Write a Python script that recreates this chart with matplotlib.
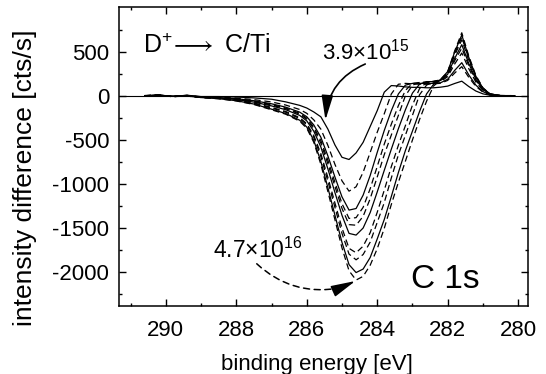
import matplotlib
matplotlib.use('Agg')
import matplotlib.pyplot as plt
from matplotlib.patches import FancyArrowPatch

plt.rcParams['font.family'] = ['Liberation Sans', 'DejaVu Sans']
plt.rcParams['mathtext.fontset'] = 'custom'
plt.rcParams['mathtext.rm'] = 'Liberation Sans'
plt.rcParams['mathtext.default'] = 'regular'
plt.rcParams['axes.unicode_minus'] = False

# binding energy grid [eV]
energy = [290.6, 290.2, 289.8, 289.4, 289.0, 288.5, 288.0, 287.5, 287.0, 286.6,
          286.2, 286.0, 285.8, 285.6, 285.4, 285.2, 285.0, 284.8, 284.6, 284.4,
          284.2, 284.0, 283.8, 283.6, 283.4, 283.2, 283.0, 282.8, 282.6, 282.4,
          282.2, 282.0, 281.8, 281.6, 281.4, 281.2, 281.0, 280.8, 280.5, 280.1]

# difference spectra, lowest fluence (3.9e15) first, highest (4.7e16) last
spec_1 = [0, 8, -8, 5, -10, -10, -15, -25, -40, -70,
          -110, -140, -185, -240, -380, -560, -700, -725, -650, -530,
          -350, -170, 40, 115, 110, 100, 95, 95, 90, 90,
          97, 109, 139, 165, 104, 53, 21, 5, 0, 0]
spec_2 = [0, 6, -10, 3, -12, -16, -27, -45, -71, -106,
          -157, -200, -275, -380, -565, -781, -968, -1085, -1035, -870,
          -645, -415, -205, 20, 130, 140, 135, 130, 130, 135,
          141, 174, 258, 330, 208, 106, 41, 10, 0, -3]
spec_3 = [-3, 5, -6, 0, -14, -21, -34, -57, -92, -130,
          -187, -239, -333, -472, -685, -925, -1150, -1300, -1282, -1130,
          -907, -644, -395, -171, 20, 120, 140, 140, 140, 140,
          147, 187, 288, 375, 236, 120, 47, 11, 2, 0]
spec_4 = [2, 4, -9, -2, -15, -22, -37, -62, -100, -140,
          -200, -255, -357, -510, -735, -985, -1227, -1395, -1386, -1269,
          -1057, -804, -550, -324, -113, 60, 140, 150, 150, 150,
          160, 217, 361, 485, 306, 155, 61, 15, 0, 2]
spec_5 = [0, 7, -12, 2, -16, -24, -40, -67, -107, -148,
          -210, -268, -376, -540, -774, -1032, -1281, -1465, -1472, -1371,
          -1170, -924, -670, -447, -224, 0, 120, 150, 155, 155,
          167, 232, 398, 540, 340, 173, 68, 16, 0, 0]
spec_6 = [-2, 6, -8, 4, -18, -26, -44, -73, -116, -159,
          -224, -286, -404, -583, -832, -1101, -1360, -1565, -1584, -1504,
          -1328, -1094, -848, -608, -376, -160, 30, 130, 160, 160,
          173, 244, 424, 580, 365, 186, 73, 17, 0, -2]
spec_7 = [1, 3, -11, 1, -19, -29, -50, -83, -133, -179,
          -250, -318, -453, -659, -931, -1220, -1504, -1735, -1785, -1710,
          -1557, -1325, -1074, -806, -564, -340, -107, 80, 150, 165,
          179, 259, 461, 635, 400, 203, 79, 19, 0, 0]
spec_8 = [0, 5, -9, -3, -20, -31, -53, -88, -140, -187,
          -260, -332, -473, -691, -973, -1270, -1565, -1800, -1865, -1805,
          -1664, -1440, -1215, -935, -673, -449, -224, 10, 120, 160,
          180, 265, 480, 665, 419, 213, 83, 20, 2, 0]
spec_9 = [-1, 6, -7, -4, -21, -34, -57, -95, -153, -202,
          -279, -356, -509, -748, -1047, -1359, -1668, -1920, -2010, -1970,
          -1839, -1628, -1407, -1146, -874, -623, -402, -181, 20, 130,
          186, 274, 497, 690, 435, 221, 86, 21, 0, 0]
spec_10 = [0, 5, -10, -5, -20, -35, -60, -100, -160, -210,
           -290, -370, -530, -780, -1090, -1410, -1730, -1990, -2095, -2053,
           -1927, -1739, -1508, -1236, -985, -744, -503, -272, -63, 110,
           180, 270, 510, 715, 450, 230, 90, 20, 0, 0]

spectra = [spec_1, spec_2, spec_3, spec_4, spec_5,
           spec_6, spec_7, spec_8, spec_9, spec_10]
styles = ['-', '--', '-', '--', '--', '-', '--', '--', '-', '--']

fig = plt.figure(figsize=(5.46, 3.74), dpi=100)
ax = fig.add_axes([119/546, 1 - 306/374, (528 - 119)/546, (306 - 7)/374])

ax.axhline(0, color='black', lw=0.8, zorder=1)
for s, ls in zip(spectra, styles):
    if ls == '-':
        ax.plot(energy, s, color='black', lw=0.9)
    else:
        ax.plot(energy, s, color='black', lw=0.9, linestyle=(0, (5, 3)))

ax.set_xlim(291.33, 279.72)
ax.set_ylim(-2390, 1008)
ax.set_xticks([290, 288, 286, 284, 282, 280])
ax.set_xticks(range(281, 292, 2), minor=True)
ax.set_yticks([-2000, -1500, -1000, -500, 0, 500])
ax.set_yticks(range(-2250, 1000, 500), minor=True)
ax.tick_params(which='both', direction='in', top=True, right=True, width=1)
ax.tick_params(which='major', length=5, labelsize=16)
ax.tick_params(axis='x', which='major', pad=10)
ax.tick_params(axis='y', which='major', pad=7)
ax.tick_params(which='minor', length=2.5)
for sp in ax.spines.values():
    sp.set_linewidth(1.1)

ax.set_xlabel('binding energy [eV]', fontsize=16)
ax.xaxis.set_label_coords(0.483, -0.162)
ax.set_ylabel('intensity difference [cts/s]', fontsize=19)
ax.yaxis.set_label_coords(-0.2, 0.43)

ax.text(290.64, 485, r'D$^{+}\!\longrightarrow$ C/Ti', fontsize=18, ha='left', va='baseline')
ax.text(285.56, 406, '3.9\u00d710$^{15}$', fontsize=16, ha='left', va='baseline')
ax.text(288.66, -1844, '4.7\u00d710$^{16}$', fontsize=16.5, ha='left', va='baseline')
ax.text(283.03, -2185, 'C 1s', fontsize=24, ha='left', va='baseline')

head = '-|>,head_length=1.5,head_width=0.35'
a1 = FancyArrowPatch((284.34, 360), (285.47, -277), connectionstyle='arc3,rad=0.3',
                     arrowstyle=head, mutation_scale=10, color='black', lw=1.2,
                     shrinkA=0, shrinkB=0)
ax.add_patch(a1)
a2 = FancyArrowPatch((287.42, -1910), (285.05, -2185), connectionstyle='arc3,rad=0.25',
                     arrowstyle='-', color='black', lw=1.1, linestyle=(0, (4, 3)),
                     shrinkA=0, shrinkB=0)
ax.add_patch(a2)
a2_head = FancyArrowPatch((285.05, -2185), (284.62, -2106), arrowstyle=head,
                          mutation_scale=10, color='black', lw=1.1,
                          shrinkA=0, shrinkB=0)
ax.add_patch(a2_head)

fig.savefig('out.png', dpi=100)
